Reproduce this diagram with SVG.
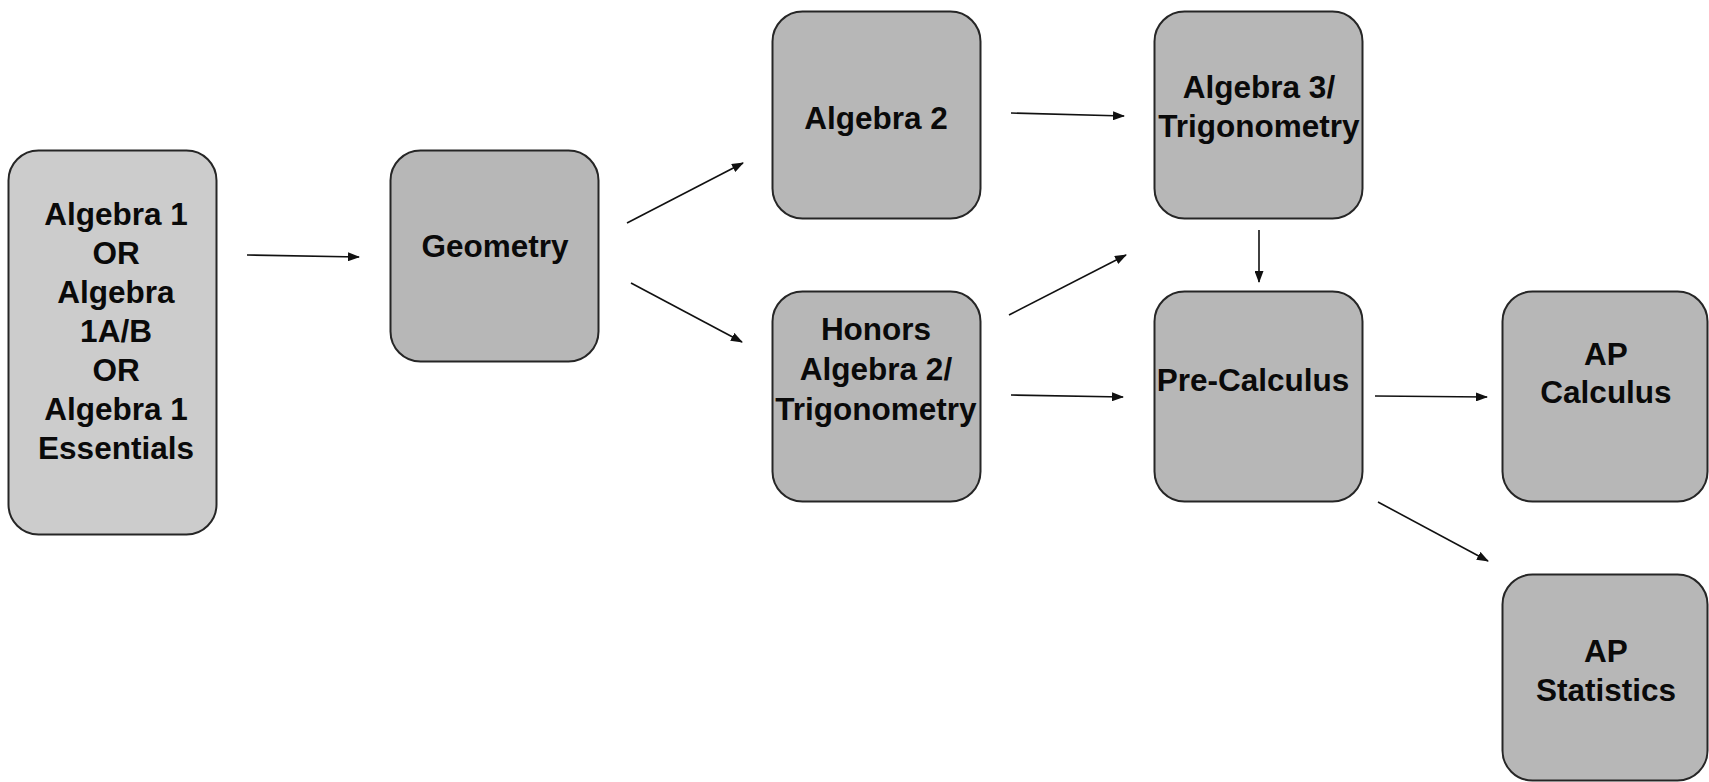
<svg xmlns="http://www.w3.org/2000/svg" width="1709" height="782" viewBox="0 0 1709 782">
  <style>
    .box { fill: #b7b7b7; stroke: #262626; stroke-width: 2; }
    .box.light { fill: #cccccc; }
    .lbl { font-family: "Liberation Sans", Arial, sans-serif; font-weight: bold; font-size: 31.5px; fill: #0a0a0a; text-anchor: middle; }
    .conn line { stroke: #111; stroke-width: 1.6; marker-end: url(#arrow); }
  </style>
  <defs>
    <marker id="arrow" markerUnits="userSpaceOnUse" markerWidth="12" markerHeight="9" refX="11" refY="4.5" orient="auto">
      <path d="M0,0 L12,4.5 L0,9 z" fill="#111"/>
    </marker>
  </defs>
  <rect width="1709" height="782" fill="#ffffff"/>

  <g id="algebra1">
    <rect class="box light" x="8.5" y="150.5" width="208" height="384" rx="30"/>
    <text class="lbl" x="116" y="225">Algebra 1</text>
    <text class="lbl" x="116" y="264">OR</text>
    <text class="lbl" x="116" y="303">Algebra</text>
    <text class="lbl" x="116" y="342">1A/B</text>
    <text class="lbl" x="116" y="381">OR</text>
    <text class="lbl" x="116" y="420">Algebra 1</text>
    <text class="lbl" x="116" y="459">Essentials</text>
  </g>

  <g id="geometry">
    <rect class="box" x="390.5" y="150.5" width="208" height="211" rx="30"/>
    <text class="lbl" x="495" y="257">Geometry</text>
  </g>

  <g id="algebra2">
    <rect class="box" x="772.5" y="11.5" width="208" height="207" rx="30"/>
    <text class="lbl" x="876" y="129">Algebra 2</text>
  </g>

  <g id="honors">
    <rect class="box" x="772.5" y="291.5" width="208" height="210" rx="30"/>
    <text class="lbl" x="876" y="340">Honors</text>
    <text class="lbl" x="876" y="380">Algebra 2/</text>
    <text class="lbl" x="876" y="420">Trigonometry</text>
  </g>

  <g id="algebra3">
    <rect class="box" x="1154.5" y="11.5" width="208" height="207" rx="30"/>
    <text class="lbl" x="1259" y="98">Algebra 3/</text>
    <text class="lbl" x="1259" y="137">Trigonometry</text>
  </g>

  <g id="precalc">
    <rect class="box" x="1154.5" y="291.5" width="208" height="210" rx="30"/>
    <text class="lbl" x="1253" y="391">Pre-Calculus</text>
  </g>

  <g id="apcalc">
    <rect class="box" x="1502.5" y="291.5" width="205" height="210" rx="30"/>
    <text class="lbl" x="1606" y="365">AP</text>
    <text class="lbl" x="1606" y="403">Calculus</text>
  </g>

  <g id="apstats">
    <rect class="box" x="1502.5" y="574.5" width="205" height="206" rx="30"/>
    <text class="lbl" x="1606" y="662">AP</text>
    <text class="lbl" x="1606" y="701">Statistics</text>
  </g>

  <g id="connectors" class="conn">
    <line x1="247" y1="255" x2="359" y2="257"/>
    <line x1="627" y1="223" x2="743" y2="163"/>
    <line x1="631" y1="283" x2="742" y2="342"/>
    <line x1="1011" y1="113" x2="1124" y2="116"/>
    <line x1="1009" y1="315" x2="1126" y2="255"/>
    <line x1="1011" y1="395" x2="1123" y2="397"/>
    <line x1="1259" y1="230" x2="1259" y2="282"/>
    <line x1="1375" y1="396" x2="1487" y2="397"/>
    <line x1="1378" y1="502" x2="1488" y2="561"/>
  </g>
</svg>
